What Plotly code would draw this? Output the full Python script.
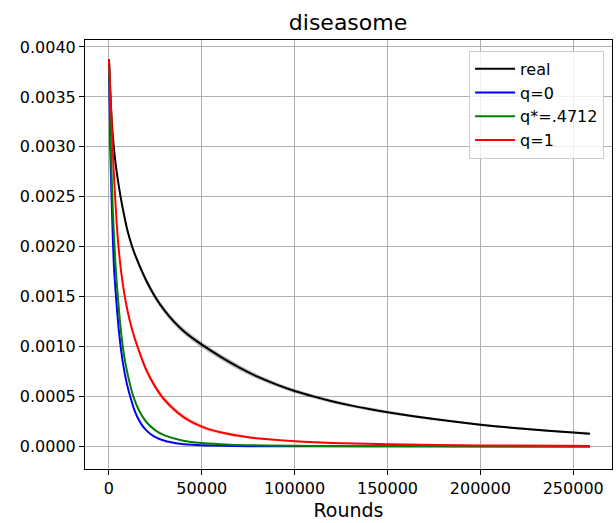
import plotly.graph_objects as go

# ---- data ----
real_x = [0, 1000, 2000, 3600, 6000, 8000, 10000, 12500, 15000, 20000, 25000, 30000, 35000,
          40000, 45000, 50000, 60000, 70000, 80000, 90000, 100000, 110000, 120000, 130000,
          140000, 150000, 175000, 200000, 225000, 250000, 259000]
real_y = [0.00388, 0.00343, 0.00313, 0.00283, 0.00253, 0.00233, 0.00216, 0.00200, 0.001875,
          0.001665, 0.001495, 0.00136, 0.00125, 0.00116, 0.001085, 0.00102, 0.000900,
          0.000792, 0.000699, 0.000622, 0.000556, 0.000502, 0.000454, 0.000412, 0.000376,
          0.000344, 0.000275, 0.000219, 0.000175, 0.000140, 0.000129]
real_sd = [0.00002, 0.00002, 0.00002, 0.000025, 0.000025, 0.000028, 0.00003, 0.00003, 0.00003,
           0.00003, 0.00003, 0.00003, 0.00003, 0.00003, 0.00003, 0.00003, 0.000028, 0.000026,
           0.000024, 0.000022, 0.00002, 0.000019, 0.000018, 0.000017, 0.000016, 0.000015,
           0.000013, 0.000012, 0.000011, 0.00001, 0.00001]

q0_x = [0, 700, 1450, 2700, 4000, 5500, 7500, 9500, 11600, 14000, 17000, 20000, 24000,
        30000, 37000, 45000, 55000, 75000, 259000]
q0_y = [0.00388, 0.00300, 0.00247, 0.00180, 0.00145, 0.00113, 0.00084, 0.00064, 0.00049,
        0.00035, 0.000237, 0.000164, 0.000104, 0.000057, 0.000031, 0.000018, 0.00001,
        0.000004, 0.000001]
q0_sd = [0.00001] * 8 + [0.000008, 0.000007, 0.000006, 0.000005, 0.000004, 0.000003,
                         0.000002, 0.000002, 0.000001, 0.000001, 0.000001]

qs_x = [0, 1000, 2000, 3500, 5000, 6500, 8000, 10000, 13000, 16000, 20000, 25000, 30000,
        40000, 50000, 65000, 85000, 110000, 150000, 259000]
qs_y = [0.00388, 0.00300, 0.00240, 0.00183, 0.00145, 0.00115, 0.00093, 0.00073, 0.00051,
        0.000368, 0.000248, 0.000162, 0.000112, 0.000058, 0.000035, 0.000019, 0.000011,
        0.000006, 0.000002, 0.000001]
qs_sd = [0.00001] * 9 + [0.000008, 0.000007, 0.000006, 0.000005, 0.000004, 0.000003,
                         0.000002, 0.000001, 0.000001, 0.000001, 0.000001]

q1_x = [0, 1000, 2500, 5000, 7500, 10000, 12500, 15000, 20000, 25000, 30000, 40000, 50000,
        60000, 75000, 100000, 125000, 150000, 200000, 259000]
q1_y = [0.00388, 0.00345, 0.00278, 0.00203, 0.00162, 0.00136, 0.00117, 0.00102, 0.000771,
        0.000595, 0.000466, 0.000297, 0.000199, 0.000142, 0.000093, 0.000054, 0.000034,
        0.000023, 0.000011, 0.000006]
q1_sd = [0.00002, 0.00002, 0.00002, 0.000025, 0.00003, 0.00003, 0.00003, 0.00003, 0.00003,
         0.00003, 0.000028, 0.000025, 0.00002, 0.000016, 0.000012, 0.000009, 0.000007,
         0.000005, 0.000004, 0.000003]

series = [
    ("real", real_x, real_y, real_sd, "black", "rgba(0,0,0,0.25)"),
    ("q=0", q0_x, q0_y, q0_sd, "blue", "rgba(0,0,255,0.2)"),
    ("q*=.4712", qs_x, qs_y, qs_sd, "green", "rgba(0,128,0,0.2)"),
    ("q=1", q1_x, q1_y, q1_sd, "red", "rgba(255,0,0,0.2)"),
]

fig = go.Figure()
for name, xs, ys, sd, col, fill in series:
    upper = [y + s for y, s in zip(ys, sd)]
    lower = [y - s for y, s in zip(ys, sd)]
    fig.add_trace(go.Scatter(x=xs + xs[::-1], y=upper + lower[::-1],
                             fill="toself", fillcolor=fill,
                             line=dict(width=0, shape="spline", smoothing=0.8),
                             mode="lines", hoverinfo="skip", showlegend=False))
for name, xs, ys, sd, col, fill in series:
    fig.add_trace(go.Scatter(x=xs, y=ys, mode="lines", name=name,
                             line=dict(color=col, width=2, shape="spline", smoothing=0.8)))

font = "DejaVu Sans"
axis_common = dict(showline=True, linecolor="black", linewidth=1, mirror=True,
                   ticks="outside", ticklen=5, tickcolor="black",
                   showgrid=True, gridcolor="#b0b0b0", gridwidth=1, zeroline=False,
                   tickfont=dict(family=font, size=16, color="black"))

fig.update_layout(
    width=616, height=523,
    margin=dict(l=85, r=4, t=40, b=54),
    paper_bgcolor="white", plot_bgcolor="white",
    title=dict(text="diseasome", x=0.565, xanchor="center", y=0.958, yanchor="middle",
               font=dict(family=font, size=22, color="black")),
    xaxis=dict(range=[-12900, 270900], tickvals=[0, 50000, 100000, 150000, 200000, 250000],
               ticktext=["0", "50000", "100000", "150000", "200000", "250000"],
               title=dict(text="Rounds", font=dict(family=font, size=19, color="black"),
                          standoff=6),
               **axis_common),
    yaxis=dict(range=[-0.000225, 0.00407],
               tickvals=[0, 0.0005, 0.001, 0.0015, 0.002, 0.0025, 0.003, 0.0035, 0.004],
               ticktext=["0.0000", "0.0005", "0.0010", "0.0015", "0.0020", "0.0025",
                         "0.0030", "0.0035", "0.0040"],
               **axis_common),
    legend=dict(x=0.985, y=0.975, xanchor="right", yanchor="top",
                bgcolor="rgba(255,255,255,0.8)", bordercolor="#cccccc", borderwidth=1,
                font=dict(family=font, size=16, color="black"),
                itemwidth=40, tracegroupgap=0),
    showlegend=True,
)

fig.write_html("out.html")
